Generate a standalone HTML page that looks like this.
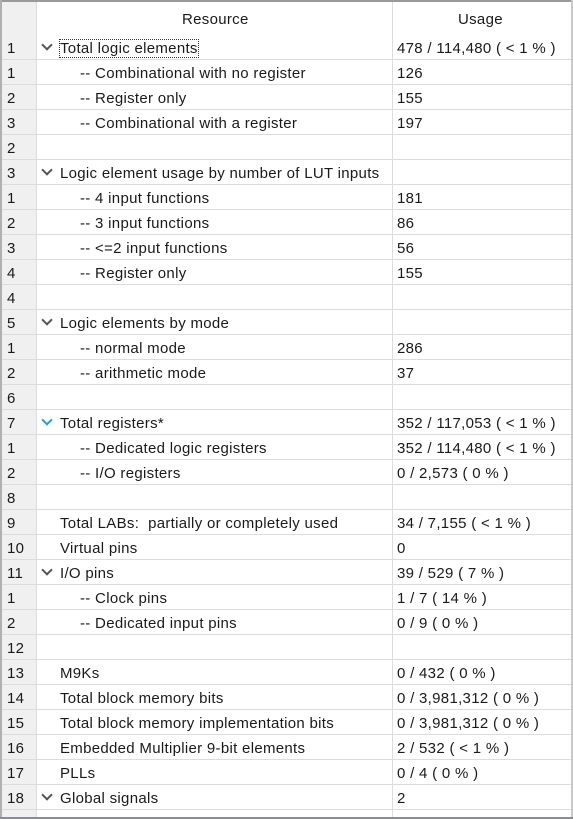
<!DOCTYPE html>
<html><head><style>
body{margin:0;width:573px;height:819px;background:#fff;font-family:"Liberation Sans","DejaVu Sans",sans-serif;font-size:15px;letter-spacing:0.3px;color:#1a1a1a;position:relative;overflow:hidden}
.top{position:absolute;left:0;top:0;width:573px;height:2px;background:#9a9a9a}
.lft{position:absolute;left:0;top:0;width:2px;height:819px;background:#b0b0b0}
.bot{position:absolute;left:0;top:817px;width:573px;height:2px;background:#8a8a9a}
.rgt{position:absolute;left:571px;top:0;width:2px;height:819px;background:#c8c8c8}
.numcol{position:absolute;left:2px;top:2px;width:34px;height:815px;background:#f0f0f0}
.v{position:absolute;top:2px;width:1px;height:815px;background:#dcdcdc}
.row{position:absolute;left:2px;width:569px;height:25px;border-bottom:1px solid #dcdcdc;box-sizing:border-box}
.row span{position:absolute;top:5px;white-space:pre}
.n{left:5px}.m{left:58px}.s{left:78px}.u{left:395px}
.row span.c{left:41px;top:6px;width:6px;height:6px;border-right:2px solid #555;border-bottom:2px solid #555;transform:rotate(45deg)}
.row span.c.blue{border-color:#1aa3e0}
.hdr{position:absolute;top:11px}
.focus{outline:1px dotted #333;outline-offset:0px}
</style></head><body>
<div class="numcol"></div>
<div class="v" style="left:36px"></div>
<div class="v" style="left:392px"></div>
<span class="hdr" style="left:182px">Resource</span>
<span class="hdr" style="left:458px">Usage</span>
<div class="row" style="top:35px"><span class="n">1</span><span class="c"></span><span class="m focus">Total logic elements</span><span class="u">478 / 114,480 ( &lt; 1 % )</span></div>
<div class="row" style="top:60px"><span class="n">1</span><span class="s">-- Combinational with no register</span><span class="u">126</span></div>
<div class="row" style="top:85px"><span class="n">2</span><span class="s">-- Register only</span><span class="u">155</span></div>
<div class="row" style="top:110px"><span class="n">3</span><span class="s">-- Combinational with a register</span><span class="u">197</span></div>
<div class="row" style="top:135px"><span class="n">2</span></div>
<div class="row" style="top:160px"><span class="n">3</span><span class="c"></span><span class="m">Logic element usage by number of LUT inputs</span></div>
<div class="row" style="top:185px"><span class="n">1</span><span class="s">-- 4 input functions</span><span class="u">181</span></div>
<div class="row" style="top:210px"><span class="n">2</span><span class="s">-- 3 input functions</span><span class="u">86</span></div>
<div class="row" style="top:235px"><span class="n">3</span><span class="s">-- &lt;=2 input functions</span><span class="u">56</span></div>
<div class="row" style="top:260px"><span class="n">4</span><span class="s">-- Register only</span><span class="u">155</span></div>
<div class="row" style="top:285px"><span class="n">4</span></div>
<div class="row" style="top:310px"><span class="n">5</span><span class="c"></span><span class="m">Logic elements by mode</span></div>
<div class="row" style="top:335px"><span class="n">1</span><span class="s">-- normal mode</span><span class="u">286</span></div>
<div class="row" style="top:360px"><span class="n">2</span><span class="s">-- arithmetic mode</span><span class="u">37</span></div>
<div class="row" style="top:385px"><span class="n">6</span></div>
<div class="row" style="top:410px"><span class="n">7</span><span class="c blue"></span><span class="m">Total registers*</span><span class="u">352 / 117,053 ( &lt; 1 % )</span></div>
<div class="row" style="top:435px"><span class="n">1</span><span class="s">-- Dedicated logic registers</span><span class="u">352 / 114,480 ( &lt; 1 % )</span></div>
<div class="row" style="top:460px"><span class="n">2</span><span class="s">-- I/O registers</span><span class="u">0 / 2,573 ( 0 % )</span></div>
<div class="row" style="top:485px"><span class="n">8</span></div>
<div class="row" style="top:510px"><span class="n">9</span><span class="m">Total LABs:  partially or completely used</span><span class="u">34 / 7,155 ( &lt; 1 % )</span></div>
<div class="row" style="top:535px"><span class="n">10</span><span class="m">Virtual pins</span><span class="u">0</span></div>
<div class="row" style="top:560px"><span class="n">11</span><span class="c"></span><span class="m">I/O pins</span><span class="u">39 / 529 ( 7 % )</span></div>
<div class="row" style="top:585px"><span class="n">1</span><span class="s">-- Clock pins</span><span class="u">1 / 7 ( 14 % )</span></div>
<div class="row" style="top:610px"><span class="n">2</span><span class="s">-- Dedicated input pins</span><span class="u">0 / 9 ( 0 % )</span></div>
<div class="row" style="top:635px"><span class="n">12</span></div>
<div class="row" style="top:660px"><span class="n">13</span><span class="m">M9Ks</span><span class="u">0 / 432 ( 0 % )</span></div>
<div class="row" style="top:685px"><span class="n">14</span><span class="m">Total block memory bits</span><span class="u">0 / 3,981,312 ( 0 % )</span></div>
<div class="row" style="top:710px"><span class="n">15</span><span class="m">Total block memory implementation bits</span><span class="u">0 / 3,981,312 ( 0 % )</span></div>
<div class="row" style="top:735px"><span class="n">16</span><span class="m">Embedded Multiplier 9-bit elements</span><span class="u">2 / 532 ( &lt; 1 % )</span></div>
<div class="row" style="top:760px"><span class="n">17</span><span class="m">PLLs</span><span class="u">0 / 4 ( 0 % )</span></div>
<div class="row" style="top:785px"><span class="n">18</span><span class="c"></span><span class="m">Global signals</span><span class="u">2</span></div>
<div class="top"></div><div class="lft"></div><div class="rgt"></div><div class="bot"></div>
</body></html>
